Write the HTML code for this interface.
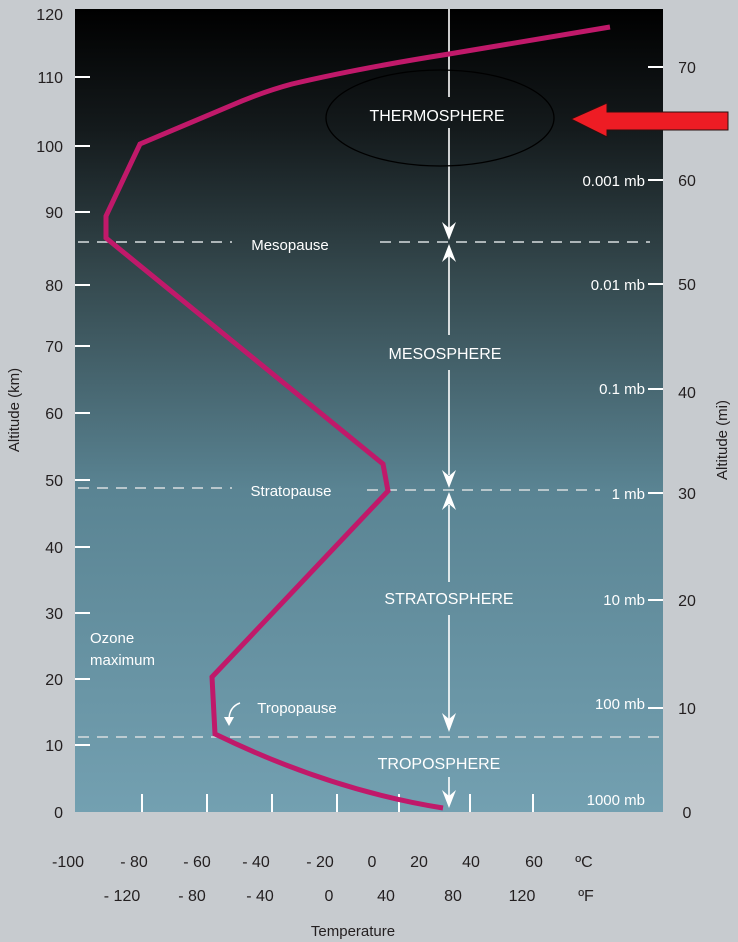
<!DOCTYPE html>
<html><head><meta charset="utf-8"><style>
html,body{margin:0;padding:0;background:#c7cbcf;}
svg{display:block;font-family:"Liberation Sans",Arial,sans-serif;}
</style></head><body>
<svg width="738" height="942" viewBox="0 0 738 942" xmlns="http://www.w3.org/2000/svg">
<defs>
<linearGradient id="g" x1="0" y1="0" x2="0" y2="1">
<stop offset="0" stop-color="#000000"/>
<stop offset="0.15" stop-color="#141a1c"/>
<stop offset="0.33" stop-color="#34484d"/>
<stop offset="0.6" stop-color="#5a8493"/>
<stop offset="1" stop-color="#73a0b1"/>
</linearGradient>
</defs>
<rect x="0" y="0" width="738" height="942" fill="#c7cbcf"/>
<rect x="75" y="9" width="588" height="803" fill="url(#g)"/>

<g stroke="#fff" stroke-width="2">
<line x1="75" y1="77" x2="90" y2="77"/><line x1="75" y1="146" x2="90" y2="146"/>
<line x1="75" y1="212" x2="90" y2="212"/><line x1="75" y1="285" x2="90" y2="285"/>
<line x1="75" y1="346" x2="90" y2="346"/><line x1="75" y1="413" x2="90" y2="413"/>
<line x1="75" y1="480" x2="90" y2="480"/><line x1="75" y1="547" x2="90" y2="547"/>
<line x1="75" y1="613" x2="90" y2="613"/><line x1="75" y1="679" x2="90" y2="679"/>
<line x1="75" y1="745" x2="90" y2="745"/>
<line x1="648" y1="67" x2="663" y2="67"/><line x1="648" y1="180" x2="663" y2="180"/>
<line x1="648" y1="284" x2="663" y2="284"/><line x1="648" y1="389" x2="663" y2="389"/>
<line x1="648" y1="493" x2="663" y2="493"/><line x1="648" y1="600" x2="663" y2="600"/>
<line x1="648" y1="708" x2="663" y2="708"/>
<line x1="142" y1="794" x2="142" y2="812"/><line x1="207" y1="794" x2="207" y2="812"/>
<line x1="272" y1="794" x2="272" y2="812"/><line x1="337" y1="794" x2="337" y2="812"/>
<line x1="399" y1="794" x2="399" y2="812"/><line x1="470" y1="794" x2="470" y2="812"/>
<line x1="533" y1="794" x2="533" y2="812"/>
</g>

<g stroke="#d8dde0" stroke-width="1.6" stroke-dasharray="11,8">
<line x1="78" y1="242" x2="232" y2="242"/><line x1="380" y1="242" x2="650" y2="242"/>
<line x1="78" y1="488" x2="232" y2="488"/><line x1="367" y1="490" x2="600" y2="490"/>
<line x1="78" y1="737" x2="663" y2="737"/>
</g>

<g stroke="#fff" stroke-width="1.6" fill="none">
<line x1="449" y1="9" x2="449" y2="97"/>
<line x1="449" y1="128" x2="449" y2="228"/>
<line x1="449" y1="256" x2="449" y2="335"/>
<line x1="449" y1="370" x2="449" y2="475"/>
<line x1="449" y1="505" x2="449" y2="582"/>
<line x1="449" y1="615" x2="449" y2="720"/>
<line x1="449" y1="777" x2="449" y2="797"/>
</g>
<g fill="#fff">
<polygon points="442,222 449,228 456,222 449,240"/>
<polygon points="442,262 449,256 456,262 449,244"/>
<polygon points="442,470 449,476 456,470 449,488"/>
<polygon points="442,510 449,504 456,510 449,492"/>
<polygon points="442,713 449,719 456,713 449,732"/>
<polygon points="442,790 449,796 456,790 449,808"/>
</g>

<path d="M610,27 L449,54 Q360,68 292,84 Q262,92 230,106 L140,144 L106,216 L106,238 L383,464 L388,491 L212,677 L215,734 Q330,790 443,808"
 fill="none" stroke="#c0196a" stroke-width="5" stroke-linejoin="miter"/>

<ellipse cx="440" cy="118" rx="114" ry="48" fill="none" stroke="#000" stroke-width="1.3"/>

<polygon points="571,119 607,103 607,112 728,112 728,130 607,130 607,137" fill="#ee1c24" stroke="#2a1010" stroke-width="1"/>

<path d="M240,703 Q229,707 229,720" fill="none" stroke="#fff" stroke-width="1.5"/>
<polygon points="224,717 234,717 229,726" fill="#fff"/>

<g fill="#fff" font-size="16">
<text x="437" y="121" text-anchor="middle">THERMOSPHERE</text>
<text x="445" y="359" text-anchor="middle">MESOSPHERE</text>
<text x="449" y="604" text-anchor="middle">STRATOSPHERE</text>
<text x="439" y="769" text-anchor="middle">TROPOSPHERE</text>
</g>
<g fill="#fff" font-size="15">
<text x="290" y="250" text-anchor="middle">Mesopause</text>
<text x="291" y="496" text-anchor="middle">Stratopause</text>
<text x="297" y="713" text-anchor="middle">Tropopause</text>
<text x="90" y="643">Ozone</text>
<text x="90" y="665">maximum</text>
<text x="645" y="186" text-anchor="end">0.001 mb</text>
<text x="645" y="290" text-anchor="end">0.01 mb</text>
<text x="645" y="394" text-anchor="end">0.1 mb</text>
<text x="645" y="499" text-anchor="end">1 mb</text>
<text x="645" y="605" text-anchor="end">10 mb</text>
<text x="645" y="709" text-anchor="end">100 mb</text>
<text x="645" y="805" text-anchor="end">1000 mb</text>
</g>

<g fill="#231f20" font-size="16" text-anchor="end">
<text x="63" y="20">120</text><text x="63" y="83">110</text><text x="63" y="152">100</text>
<text x="63" y="218">90</text><text x="63" y="291">80</text><text x="63" y="352">70</text>
<text x="63" y="419">60</text><text x="63" y="486">50</text><text x="63" y="553">40</text>
<text x="63" y="619">30</text><text x="63" y="685">20</text><text x="63" y="751">10</text>
<text x="63" y="818">0</text>
</g>
<g fill="#231f20" font-size="16" text-anchor="middle">
<text x="687" y="73">70</text><text x="687" y="186">60</text><text x="687" y="290">50</text>
<text x="687" y="398">40</text><text x="687" y="499">30</text><text x="687" y="606">20</text>
<text x="687" y="714">10</text><text x="687" y="818">0</text>
</g>
<text transform="translate(19,410) rotate(-90)" fill="#231f20" font-size="15" text-anchor="middle">Altitude (km)</text>
<text transform="translate(727,440) rotate(-90)" fill="#231f20" font-size="15" text-anchor="middle">Altitude (mi)</text>

<g fill="#231f20" font-size="16" text-anchor="middle">
<text x="68" y="867">-100</text><text x="134" y="867">- 80</text><text x="197" y="867">- 60</text>
<text x="256" y="867">- 40</text><text x="320" y="867">- 20</text><text x="372" y="867">0</text>
<text x="419" y="867">20</text><text x="471" y="867">40</text><text x="534" y="867">60</text>
<text x="584" y="867">ºC</text>
<text x="122" y="901">- 120</text><text x="192" y="901">- 80</text><text x="260" y="901">- 40</text>
<text x="329" y="901">0</text><text x="386" y="901">40</text><text x="453" y="901">80</text>
<text x="522" y="901">120</text><text x="586" y="901">ºF</text>
<text x="353" y="936" font-size="15">Temperature</text>
</g>
</svg>
</body></html>
